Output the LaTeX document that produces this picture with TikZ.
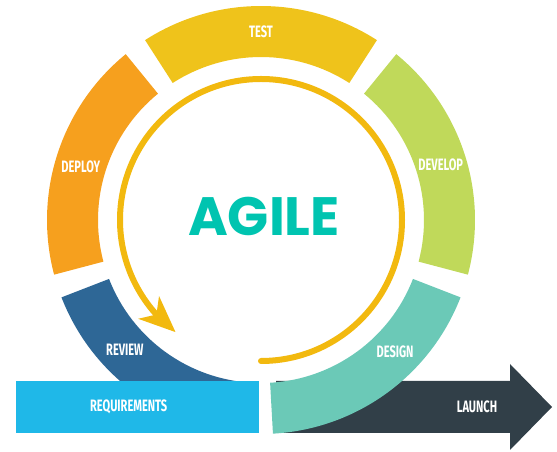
\documentclass[tikz,border=0pt]{standalone}
\usepackage{fontspec}
\usepackage{tikz}
\usetikzlibrary{arrows.meta,bending}

\newfontfamily\labelfont[FakeStretch=0.67]{Fira Sans}
\newfontfamily\titlefont{Poppins}

\definecolor{testc}{RGB}{239,195,27}
\definecolor{deployc}{RGB}{246,160,30}
\definecolor{developc}{RGB}{192,217,90}
\definecolor{designc}{RGB}{107,201,183}
\definecolor{reviewc}{RGB}{46,103,150}
\definecolor{reqc}{RGB}{31,184,232}
\definecolor{launchc}{RGB}{49,63,72}
\definecolor{agilec}{RGB}{0,196,176}
\definecolor{arrowc}{RGB}{242,185,15}

\begin{document}
\begin{tikzpicture}[x=1pt, y=1pt,
        declare function={
            Rout = 214;
            Rin = 163;
            Rlab = 188;
            Rarr = 141;
            half = 32.8;
        },
        lbl/.style={text=white, inner sep=0pt, font=\labelfont\bfseries\fontsize{16.5}{16.5}\selectfont}
    ]
    \useasboundingbox (0,0) rectangle (557,452);

    % launch arrow, partly under the ring
    \fill[launchc] (276,19) -- (510,19) -- (510,2) -- (552,45) -- (510,88) -- (510,71) -- (276,71) -- cycle;
    \node[lbl] (launch) at (477,45) {LAUNCH};

    \begin{scope}[shift={(261,232)}]
        \foreach \name/\col/\mid/\lab/\txt in {test/testc/90/90/TEST, deploy/deployc/162/163.5/DEPLOY, develop/developc/18/17/DEVELOP, design/designc/306/315.5/DESIGN}{
            \fill[\col] ({\mid-half}:Rout) arc[start angle={\mid-half}, end angle={\mid+half}, radius=Rout]
                -- ({\mid+half}:Rin) arc[start angle={\mid+half}, end angle={\mid-half}, radius=Rin] -- cycle;
            \node[lbl] (\name) at ({\lab}:{Rlab}) {\txt};
        }

        % review is cut by the bar
        \begin{scope}
            \clip (-261,-213) rectangle (296,220);
            \fill[reviewc] ({234-half}:Rout) arc[start angle={234-half}, end angle={234+half}, radius=Rout]
                -- ({234+half}:Rin) arc[start angle={234+half}, end angle={234-half}, radius=Rin] -- cycle;
        \end{scope}
        \node[lbl] (review) at (223.6:{Rlab}) {REVIEW};

        \draw[arrowc, line width=6, line cap=round, -{Stealth[length=36, width=30, inset=10]}]
            (-90:Rarr) arc[start angle=-90, end angle=232.7, radius=Rarr];
    \end{scope}

    \node[fill=reqc, inner sep=0pt, minimum width=243, minimum height=52, anchor=south west] (req) at (16,19) {};
    \node[lbl] (reqtext) at ([xshift=-9]req.center) {REQUIREMENTS};

    \node[text=agilec, inner sep=0pt, font=\titlefont\bfseries\fontsize{54}{54}\selectfont] (agile) at (264,236) {AGILE};
\end{tikzpicture}
\end{document}
